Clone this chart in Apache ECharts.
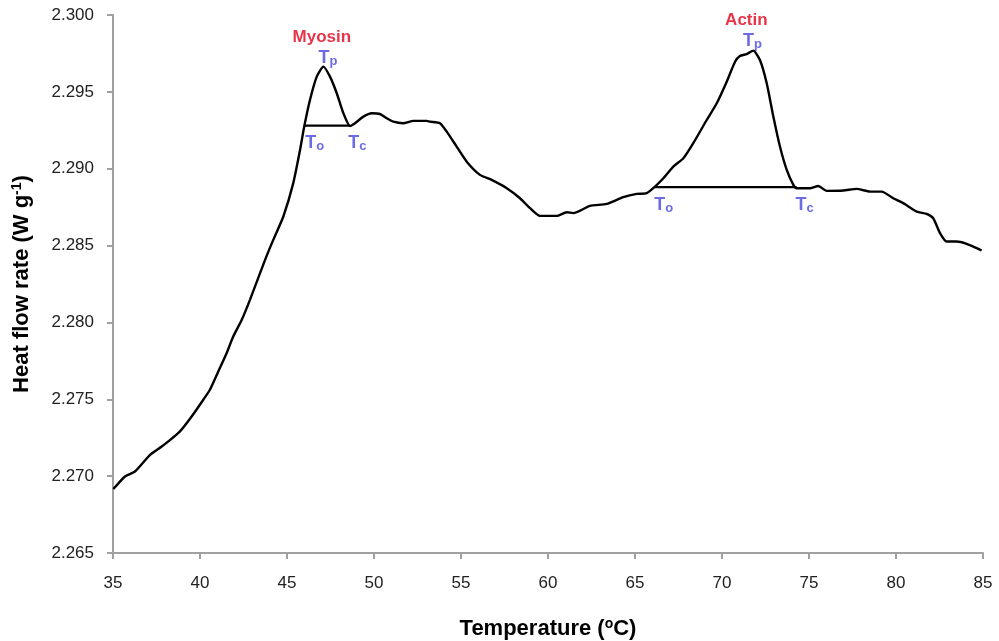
<!DOCTYPE html>
<html>
<head>
<meta charset="utf-8">
<script src="https://cdn.jsdelivr.net/npm/echarts@6/dist/echarts.min.js"></script>
<style>
html,body{margin:0;padding:0;background:#fff;}
#chart{width:999px;height:641px;}
</style>
</head>
<body>
<div id="chart"></div>
<script>
// Temperature (°C)
const temperature = [
  35.02, 35.69, 36.26, 37.13, 37.80, 38.18, 38.85, 39.52, 40.19, 40.57, 41.05, 41.53, 41.91, 42.40, 42.87,
  43.74, 44.21, 44.79, 45.36, 45.75, 45.99, 46.32, 46.71, 47.09, 47.47, 47.86, 48.24, 48.62, 48.91, 49.39,
  49.87, 50.34, 50.73, 51.11, 51.68, 52.26, 53.03, 53.22, 53.79, 54.18, 54.75, 55.33, 56.09, 56.76, 57.63,
  58.39, 58.97, 59.54, 60.50, 61.08, 61.45, 62.41, 63.37, 64.33, 65.10, 65.67, 66.15, 66.63, 67.20, 67.78,
  68.35, 69.12, 69.70, 70.27, 70.75, 71.03, 71.42, 71.80, 72.18, 72.57, 72.95, 73.33, 73.72, 74.10, 74.29,
  75.06, 75.53, 76.02, 76.97, 77.74, 78.51, 79.18, 79.84, 80.42, 81.19, 81.76, 82.14, 82.53, 82.91, 83.49,
  84.06, 84.64, 84.92
];
// Heat flow rate (W g-1)
const heatFlow = [
  2.26916, 2.26998, 2.27030, 2.27139, 2.27193, 2.27226, 2.27291, 2.27388, 2.27497, 2.27562, 2.27681, 2.27800, 2.27908, 2.28017, 2.28147,
  2.28407, 2.28537, 2.28689, 2.28906, 2.29122, 2.29274, 2.29447, 2.29599, 2.29664, 2.29599, 2.29491, 2.29361, 2.29278, 2.29296, 2.29339,
  2.29361, 2.29356, 2.29328, 2.29306, 2.29296, 2.29311, 2.29311, 2.29306, 2.29296, 2.29241, 2.29144, 2.29046, 2.28960, 2.28927, 2.28873,
  2.28808, 2.28743, 2.28693, 2.28693, 2.28717, 2.28711, 2.28758, 2.28771, 2.28815, 2.28836, 2.28841, 2.28884, 2.28938, 2.29014, 2.29068,
  2.29166, 2.29317, 2.29426, 2.29566, 2.29696, 2.29733, 2.29746, 2.29768, 2.29707, 2.29556, 2.29339, 2.29144, 2.28992, 2.28895, 2.28873,
  2.28873, 2.28888, 2.28856, 2.28858, 2.28869, 2.28851, 2.28851, 2.28808, 2.28776, 2.28721, 2.28706, 2.28678, 2.28581, 2.28526, 2.28526,
  2.28511, 2.28483, 2.28468
];
// Peak baselines (onset -> conclusion)
const myosinBaselineT = [46.0, 48.62];
const myosinBaselineY = [2.2928, 2.2928];
const actinBaselineT = [66.15, 74.29];
const actinBaselineY = [2.2888, 2.2888];
// Peak names
const peakNames = ['Myosin', 'Actin'];
const peakNameT = [47.0, 71.4];
const peakNameY = [2.29857, 2.29967];
// Characteristic temperature labels
const markText = ['p', 'o', 'c', 'p', 'o', 'c'];
const markT = [47.35, 46.6, 49.05, 71.75, 66.65, 74.75];
const markY = [2.2972, 2.29168, 2.29168, 2.29832, 2.28765, 2.28765];
// Axis ticks
const xTicks = { min: 35, max: 85, step: 5 };
const yTicks = { min: 2.265, max: 2.300, step: 0.005 };

const FONT = '"Liberation Sans", Arial, sans-serif';
const chart = echarts.init(document.getElementById('chart'), null, { renderer: 'canvas' });

const lineData = temperature.map((t, i) => [t, heatFlow[i]]);
const myoBase = myosinBaselineT.map((t, i) => [t, myosinBaselineY[i]]);
const actBase = actinBaselineT.map((t, i) => [t, actinBaselineY[i]]);
const nameData = peakNames.map((n, i) => ({ value: [peakNameT[i], peakNameY[i]], name: n }));
const markData = markText.map((s, i) => ({ value: [markT[i], markY[i]], name: s }));

const option = {
  animation: false,
  backgroundColor: '#ffffff',
  grid: { left: 113, right: 16, top: 15, bottom: 88, containLabel: false, outerBoundsMode: 'none' },
  xAxis: {
    type: 'value', min: xTicks.min, max: xTicks.max, interval: xTicks.step,
    name: '{a|Temperature (}{s|o}{a|C)}',
    nameLocation: 'middle', nameGap: 64,
    nameTextStyle: {
      rich: {
        a: { fontFamily: FONT, fontSize: 22, fontWeight: 'bold', color: '#000' },
        s: { fontFamily: FONT, fontSize: 14, fontWeight: 'bold', color: '#000', verticalAlign: 'top', padding: [0, 0, 9, 0] }
      }
    },
    axisLine: { show: true, lineStyle: { color: '#a0a0a0', width: 2 } },
    axisTick: { show: true, length: 6, lineStyle: { color: '#a0a0a0', width: 2 } },
    axisLabel: { fontFamily: FONT, fontSize: 17, color: '#222', margin: 22 },
    splitLine: { show: false }
  },
  yAxis: {
    type: 'value', min: yTicks.min, max: yTicks.max, interval: yTicks.step,
    name: '{a|Heat flow rate (W g}{s|-1}{a|)}',
    nameLocation: 'middle', nameGap: 80, nameRotate: 90,
    nameTextStyle: {
      rich: {
        a: { fontFamily: FONT, fontSize: 22, fontWeight: 'bold', color: '#000' },
        s: { fontFamily: FONT, fontSize: 14, fontWeight: 'bold', color: '#000', verticalAlign: 'top', padding: [0, 0, 9, 0] }
      }
    },
    axisLine: { show: true, lineStyle: { color: '#a0a0a0', width: 2 } },
    axisTick: { show: true, length: 6, lineStyle: { color: '#a0a0a0', width: 2 } },
    axisLabel: { fontFamily: FONT, fontSize: 17, color: '#222', margin: 19, formatter: v => v.toFixed(3) },
    splitLine: { show: false }
  },
  series: [
    {
      type: 'line', data: lineData, showSymbol: false, smooth: 0.2,
      lineStyle: { color: '#000', width: 2.4 }, z: 3
    },
    {
      type: 'line', data: myoBase, showSymbol: false,
      lineStyle: { color: '#000', width: 2.2 }, z: 2
    },
    {
      type: 'line', data: actBase, showSymbol: false,
      lineStyle: { color: '#000', width: 2.2 }, z: 2
    },
    {
      type: 'scatter', data: nameData, symbolSize: 0,
      label: {
        show: true, position: 'inside', formatter: p => p.name,
        fontFamily: FONT, fontSize: 17, fontWeight: 'bold', color: '#e2001a'
      }, z: 5
    },
    {
      type: 'scatter', data: markData, symbolSize: 0,
      label: {
        show: true, position: 'inside', formatter: p => '{t|T}{s|' + p.name + '}',
        rich: {
          t: { fontFamily: FONT, fontSize: 18, fontWeight: 'bold', color: '#4646dc', lineHeight: 20 },
          s: { fontFamily: FONT, fontSize: 13, fontWeight: 'bold', color: '#4646dc', verticalAlign: 'bottom', lineHeight: 20, padding: [7, 0, 0, 0] }
        }
      }, z: 5
    }
  ]
};
chart.setOption(option);
</script>
</body>
</html>
